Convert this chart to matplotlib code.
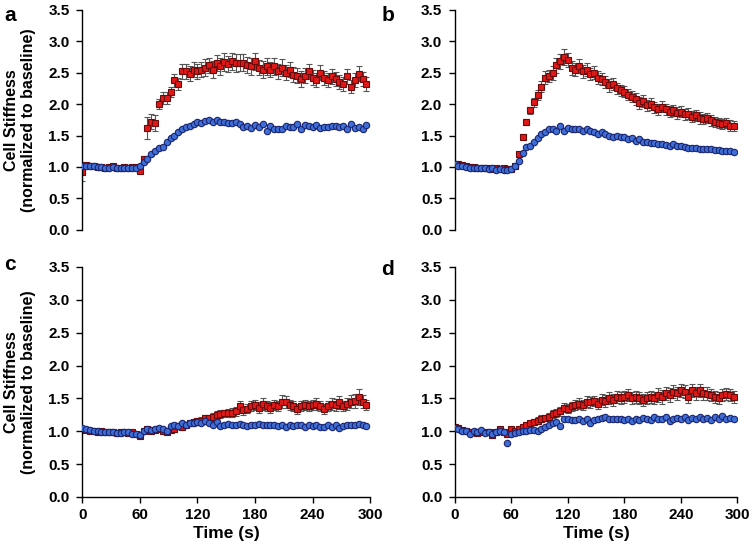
import matplotlib
matplotlib.use("Agg")
import matplotlib.pyplot as plt

plt.rcParams['font.family'] = ['Liberation Sans', 'DejaVu Sans']
plt.rcParams['font.weight'] = 'bold'

# sampling times (s)
time_s = [0, 4, 8, 12, 16, 20, 24, 28, 32, 36, 40, 44, 48, 52, 56,
          60, 64, 68, 72, 76, 80, 84, 88, 92, 96, 100, 104, 108, 112, 116,
          120, 124, 128, 132, 136, 140, 144, 148, 152, 156, 160, 164, 168, 172, 176,
          180, 184, 188, 192, 196, 200, 204, 208, 212, 216, 220, 224, 228, 232, 236,
          240, 244, 248, 252, 256, 260, 264, 268, 272, 276, 280, 284, 288, 292, 296]

# panel a
a_red = [0.92, 1.03, 1.02, 1.01, 1.00, 1.00, 0.99, 1.00, 1.01, 0.99, 0.99, 1.00, 0.98, 1.00, 1.00,
         0.93, 1.12, 1.62, 1.72, 1.70, 2.00, 2.10, 2.10, 2.20, 2.38, 2.32, 2.52, 2.52, 2.48, 2.55,
         2.52, 2.55, 2.58, 2.62, 2.55, 2.65, 2.60, 2.67, 2.64, 2.68, 2.65, 2.66, 2.66, 2.62, 2.60,
         2.68, 2.58, 2.55, 2.60, 2.55, 2.60, 2.52, 2.58, 2.50, 2.55, 2.47, 2.45, 2.40, 2.45, 2.52,
         2.42, 2.38, 2.50, 2.42, 2.38, 2.44, 2.40, 2.35, 2.32, 2.44, 2.28, 2.38, 2.48, 2.40, 2.32]
a_red_err = [0.14, 0.04, 0.03, 0.03, 0.03, 0.03, 0.03, 0.03, 0.03, 0.03, 0.03, 0.03, 0.03, 0.03, 0.03,
             0.03, 0.05, 0.18, 0.12, 0.12, 0.08, 0.10, 0.10, 0.08, 0.10, 0.10, 0.12, 0.12, 0.12, 0.12,
             0.12, 0.12, 0.13, 0.12, 0.13, 0.13, 0.14, 0.14, 0.13, 0.14, 0.14, 0.14, 0.13, 0.13, 0.13,
             0.13, 0.12, 0.13, 0.13, 0.12, 0.13, 0.12, 0.13, 0.12, 0.12, 0.12, 0.12, 0.12, 0.12, 0.12,
             0.12, 0.11, 0.12, 0.11, 0.11, 0.12, 0.11, 0.11, 0.11, 0.12, 0.11, 0.11, 0.12, 0.11, 0.11]
a_blue = [1.02, 1.02, 1.01, 1.01, 1.00, 1.00, 0.99, 0.99, 1.00, 0.99, 0.98, 0.99, 0.99, 0.98, 0.99,
          1.02, 1.08, 1.13, 1.20, 1.25, 1.30, 1.32, 1.40, 1.46, 1.50, 1.56, 1.60, 1.63, 1.66, 1.68,
          1.72, 1.70, 1.73, 1.74, 1.72, 1.74, 1.72, 1.71, 1.70, 1.70, 1.71, 1.68, 1.64, 1.65, 1.62,
          1.67, 1.64, 1.68, 1.58, 1.66, 1.60, 1.61, 1.60, 1.65, 1.63, 1.64, 1.68, 1.60, 1.67, 1.66,
          1.64, 1.67, 1.62, 1.64, 1.63, 1.66, 1.65, 1.64, 1.66, 1.60, 1.69, 1.62, 1.64, 1.61, 1.67]

# panel b
b_red = [1.05, 1.04, 1.03, 1.01, 1.00, 1.00, 0.99, 0.98, 0.98, 0.99, 0.97, 0.98, 0.97, 0.98, 0.97,
         0.97, 1.02, 1.20, 1.48, 1.72, 1.90, 2.03, 2.15, 2.28, 2.42, 2.45, 2.50, 2.62, 2.68, 2.75,
         2.70, 2.58, 2.55, 2.60, 2.52, 2.55, 2.48, 2.50, 2.42, 2.40, 2.35, 2.30, 2.32, 2.25, 2.22,
         2.20, 2.15, 2.12, 2.08, 2.02, 2.05, 1.98, 2.00, 1.95, 1.92, 1.96, 1.92, 1.88, 1.90, 1.86,
         1.88, 1.84, 1.85, 1.80, 1.82, 1.78, 1.76, 1.78, 1.74, 1.72, 1.70, 1.68, 1.70, 1.66, 1.65]
b_red_err = [0.03, 0.03, 0.03, 0.03, 0.03, 0.03, 0.03, 0.03, 0.03, 0.03, 0.03, 0.03, 0.03, 0.03, 0.03,
             0.03, 0.03, 0.04, 0.04, 0.05, 0.06, 0.07, 0.08, 0.09, 0.10, 0.10, 0.11, 0.12, 0.12, 0.12,
             0.11, 0.11, 0.11, 0.11, 0.10, 0.10, 0.10, 0.10, 0.10, 0.10, 0.10, 0.10, 0.09, 0.09, 0.09,
             0.09, 0.09, 0.09, 0.09, 0.09, 0.09, 0.09, 0.09, 0.09, 0.09, 0.09, 0.09, 0.09, 0.09, 0.09,
             0.09, 0.09, 0.09, 0.09, 0.09, 0.09, 0.08, 0.08, 0.08, 0.08, 0.08, 0.08, 0.08, 0.08, 0.08]
b_blue = [1.04, 1.02, 1.01, 1.00, 0.99, 0.99, 0.98, 0.99, 0.98, 0.97, 0.98, 0.96, 0.97, 0.96, 0.96,
          0.97, 1.02, 1.10, 1.22, 1.32, 1.33, 1.40, 1.46, 1.52, 1.56, 1.60, 1.60, 1.58, 1.66, 1.58,
          1.62, 1.61, 1.60, 1.60, 1.58, 1.60, 1.57, 1.55, 1.52, 1.55, 1.52, 1.50, 1.48, 1.49, 1.47,
          1.47, 1.45, 1.46, 1.42, 1.44, 1.40, 1.40, 1.38, 1.38, 1.37, 1.36, 1.35, 1.34, 1.36, 1.33,
          1.33, 1.32, 1.31, 1.30, 1.31, 1.29, 1.29, 1.28, 1.28, 1.27, 1.27, 1.26, 1.26, 1.25, 1.24]

# panel c
c_red = [1.03, 1.02, 1.01, 1.00, 0.99, 1.00, 0.98, 0.99, 0.98, 0.97, 0.98, 0.99, 0.97, 0.98, 0.96,
         0.93, 1.00, 1.03, 1.00, 1.02, 1.04, 1.00, 0.98, 1.02, 1.03, 1.08, 1.06, 1.10, 1.12, 1.14,
         1.15, 1.16, 1.20, 1.20, 1.22, 1.24, 1.26, 1.27, 1.28, 1.28, 1.30, 1.38, 1.32, 1.34, 1.38,
         1.40, 1.36, 1.42, 1.38, 1.36, 1.40, 1.38, 1.45, 1.44, 1.40, 1.38, 1.34, 1.38, 1.40, 1.38,
         1.40, 1.42, 1.38, 1.34, 1.38, 1.42, 1.40, 1.44, 1.38, 1.42, 1.45, 1.46, 1.52, 1.45, 1.40]
c_red_err = [0.03, 0.03, 0.03, 0.03, 0.03, 0.03, 0.03, 0.03, 0.03, 0.03, 0.03, 0.03, 0.03, 0.03, 0.03,
             0.03, 0.03, 0.03, 0.03, 0.03, 0.03, 0.03, 0.03, 0.03, 0.03, 0.04, 0.04, 0.04, 0.04, 0.04,
             0.05, 0.05, 0.05, 0.05, 0.06, 0.06, 0.06, 0.06, 0.06, 0.07, 0.07, 0.08, 0.07, 0.07, 0.08,
             0.08, 0.08, 0.09, 0.08, 0.08, 0.08, 0.08, 0.10, 0.09, 0.08, 0.08, 0.08, 0.08, 0.08, 0.08,
             0.08, 0.09, 0.08, 0.08, 0.08, 0.09, 0.09, 0.10, 0.08, 0.09, 0.10, 0.10, 0.12, 0.10, 0.08]
c_blue = [1.05, 1.03, 1.02, 1.00, 1.00, 0.99, 0.99, 0.98, 0.98, 0.97, 0.97, 0.98, 0.99, 0.96, 0.95,
          0.94, 1.00, 1.04, 1.02, 1.04, 1.05, 1.03, 1.00, 1.08, 1.10, 1.08, 1.12, 1.10, 1.12, 1.13,
          1.14, 1.13, 1.15, 1.12, 1.10, 1.14, 1.08, 1.10, 1.11, 1.10, 1.09, 1.11, 1.10, 1.08, 1.10,
          1.09, 1.11, 1.10, 1.09, 1.10, 1.09, 1.08, 1.09, 1.07, 1.10, 1.08, 1.09, 1.10, 1.06, 1.10,
          1.08, 1.10, 1.07, 1.06, 1.09, 1.06, 1.10, 1.05, 1.08, 1.09, 1.10, 1.10, 1.11, 1.10, 1.08]

# panel d
d_red = [1.07, 1.05, 1.02, 1.00, 0.98, 0.99, 0.97, 0.98, 0.99, 0.98, 0.94, 0.98, 1.03, 0.98, 0.96,
         1.03, 1.00, 1.03, 1.06, 1.10, 1.12, 1.14, 1.16, 1.19, 1.20, 1.22, 1.26, 1.28, 1.30, 1.36,
         1.34, 1.38, 1.40, 1.42, 1.40, 1.45, 1.44, 1.46, 1.42, 1.48, 1.46, 1.50, 1.48, 1.52, 1.50,
         1.52, 1.55, 1.50, 1.52, 1.50, 1.48, 1.50, 1.52, 1.50, 1.55, 1.52, 1.58, 1.55, 1.60, 1.58,
         1.62, 1.60, 1.52, 1.62, 1.58, 1.62, 1.58, 1.57, 1.55, 1.52, 1.50, 1.55, 1.57, 1.55, 1.52]
d_red_err = [0.03, 0.03, 0.03, 0.03, 0.03, 0.03, 0.03, 0.03, 0.03, 0.03, 0.03, 0.03, 0.03, 0.03, 0.03,
             0.03, 0.03, 0.03, 0.04, 0.04, 0.04, 0.05, 0.05, 0.05, 0.05, 0.06, 0.06, 0.06, 0.07, 0.07,
             0.07, 0.07, 0.07, 0.08, 0.08, 0.08, 0.08, 0.08, 0.08, 0.08, 0.09, 0.09, 0.09, 0.09, 0.09,
             0.09, 0.09, 0.09, 0.09, 0.09, 0.09, 0.09, 0.09, 0.09, 0.10, 0.10, 0.10, 0.10, 0.10, 0.10,
             0.10, 0.10, 0.09, 0.10, 0.10, 0.10, 0.10, 0.10, 0.09, 0.09, 0.09, 0.09, 0.09, 0.09, 0.09]
d_blue = [1.05, 1.04, 1.01, 1.00, 0.95, 1.00, 0.98, 1.02, 0.97, 0.98, 0.96, 0.98, 1.00, 0.99, 0.82,
          0.95, 0.97, 0.98, 1.00, 1.01, 1.02, 1.02, 1.01, 1.04, 1.06, 1.10, 1.12, 1.14, 1.08, 1.19,
          1.18, 1.17, 1.17, 1.18, 1.16, 1.18, 1.13, 1.17, 1.18, 1.20, 1.21, 1.19, 1.18, 1.19, 1.18,
          1.17, 1.19, 1.16, 1.18, 1.17, 1.20, 1.18, 1.17, 1.21, 1.19, 1.18, 1.22, 1.16, 1.19, 1.20,
          1.18, 1.21, 1.17, 1.20, 1.19, 1.22, 1.18, 1.20, 1.17, 1.21, 1.18, 1.23, 1.19, 1.20, 1.19]

blue_err = 0.02

panels = [('a', a_red, a_red_err, a_blue),
          ('b', b_red, b_red_err, b_blue),
          ('c', c_red, c_red_err, c_blue),
          ('d', d_red, d_red_err, d_blue)]

# axes boxes in figure fractions (left, bottom, width, height)
boxes = [(0.109, 0.579, 0.382, 0.403),
         (0.603, 0.579, 0.375, 0.403),
         (0.109, 0.090, 0.382, 0.421),
         (0.603, 0.090, 0.375, 0.421)]
letter_pos = [(0.006, 0.972), (0.506, 0.972), (0.006, 0.515), (0.506, 0.507)]

fig = plt.figure(figsize=(7.54, 5.46), dpi=100)

for i, (letter, red, red_err, blue) in enumerate(panels):
    ax = fig.add_axes(boxes[i])
    ax.errorbar(time_s, red, yerr=red_err, fmt='s', ms=5, mfc='#e01818', mec='#6a0a0a',
                mew=0.8, ecolor='#555555', elinewidth=0.8, capsize=2.2, capthick=0.8, zorder=2)
    ax.errorbar(time_s, blue, yerr=blue_err, fmt='o', ms=4.6, mfc='#3f6fd6', mec='#1a2470',
                mew=0.8, ecolor='#555555', elinewidth=0.6, capsize=1.5, capthick=0.6, zorder=3)

    ax.set_xlim(0, 300)
    ax.set_ylim(0, 3.5)
    ax.set_yticks([0, 0.5, 1.0, 1.5, 2.0, 2.5, 3.0, 3.5])
    ax.set_yticklabels(['0.0', '0.5', '1.0', '1.5', '2.0', '2.5', '3.0', '3.5'])
    ax.spines['top'].set_visible(False)
    ax.spines['right'].set_visible(False)
    ax.spines['left'].set_linewidth(1.0)
    ax.tick_params(axis='y', direction='out', length=4, width=1.0, labelsize=11, pad=5)

    if i < 2:
        ax.spines['bottom'].set_visible(False)
        ax.set_xticks([])
    else:
        ax.spines['bottom'].set_linewidth(1.0)
        ax.set_xticks([0, 60, 120, 180, 240, 300])
        ax.tick_params(axis='x', direction='out', length=4, width=1.0, labelsize=11, pad=4)
        ax.set_xlabel('Time (s)', fontsize=12.5, fontweight='bold', labelpad=3)

    if i % 2 == 0:
        ax.set_ylabel('Cell Stiffness\n(normalized to baseline)', fontsize=11.5,
                      fontweight='bold', labelpad=9, linespacing=1.2)

    fig.text(letter_pos[i][0], letter_pos[i][1], letter, fontsize=15, fontweight='bold',
             ha='left', va='center')

fig.savefig('out.png', dpi=100)
